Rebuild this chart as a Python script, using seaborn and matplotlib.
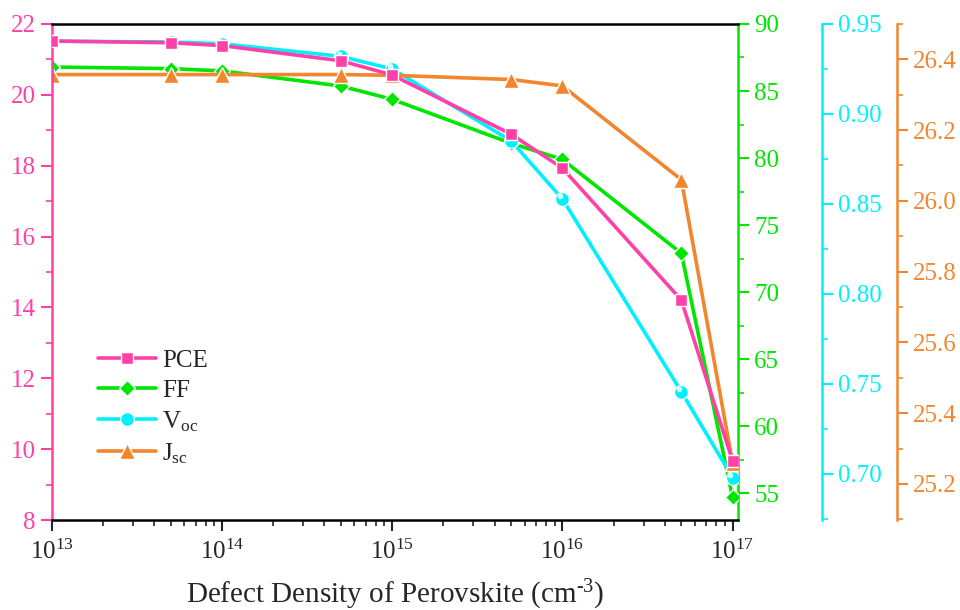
import numpy as np
import pandas as pd
import matplotlib
matplotlib.use("Agg")
import matplotlib.pyplot as plt
from matplotlib.ticker import MultipleLocator, LogLocator, NullFormatter
from matplotlib.lines import Line2D
import seaborn as sns

# --- datos ---
DENSITY = [1e13, 5e13, 1e14, 5e14, 1e15, 5e15, 1e16, 5e16, 1e17]
PCE = [21.52, 21.47, 21.39, 20.96, 20.56, 18.89, 17.93, 14.21, 9.67]
FF = [86.79, 86.67, 86.50, 85.37, 84.38, 81.10, 79.90, 72.90, 54.70]
VOC = [0.9404, 0.9400, 0.9390, 0.9320, 0.9250, 0.8850, 0.8528, 0.7457, 0.6980]
JSC = [26.357, 26.357, 26.357, 26.357, 26.355, 26.343, 26.325, 26.060, 25.260]

C_PCE = "#FF40A8"
C_FF = "#00E600"
C_VOC = "#00F0FF"
C_JSC = "#F2862E"

sns.set_style("ticks")
plt.rcParams["font.family"] = ["Liberation Serif", "DejaVu Serif"]
plt.rcParams["mathtext.fontset"] = "custom"
plt.rcParams["mathtext.rm"] = "Liberation Serif"
plt.rcParams["mathtext.it"] = "Liberation Serif:italic"

df = pd.DataFrame({"density": DENSITY, "PCE": PCE, "FF": FF, "Voc": VOC, "Jsc": JSC})

fig = plt.figure(figsize=(9.6, 6.1), dpi=100)
ax = fig.add_axes([0.054, 0.1475, 0.715, 0.8132])
ax2 = ax.twinx()
ax3 = ax.twinx()
ax4 = ax.twinx()

series = [
    (ax, "PCE", C_PCE, "s", "PCE", 9),
    (ax2, "FF", C_FF, "D", "FF", 8),
    (ax3, "Voc", C_VOC, "o", "V$_{\\rm oc}$", 10),
    (ax4, "Jsc", C_JSC, "^", "J$_{\\rm sc}$", 11),
]
handles = []
for a, col, color, mk, lab, ms in series:
    sns.lineplot(data=df, x="density", y=col, ax=a, color=color, marker=mk,
                 markersize=ms, linewidth=2.6, markeredgecolor="white",
                 markeredgewidth=1.0, legend=False, zorder=3)
    handles.append(Line2D([], [], color=color, marker=mk, markersize=ms,
                          linewidth=2.6, markeredgecolor="white",
                          markeredgewidth=1.0, label=lab))

# brillo blanco de las esferas de Voc
ax3.plot(df["density"] * 0.97, df["Voc"] + 0.0015, linestyle="none", marker="o",
         markersize=3, color="white", alpha=0.8, zorder=4)

ax.set_xscale("log")
ax.set_xlim(1e13, 1.08e17)
ax.set_ylim(8, 22)
ax2.set_ylim(53, 90)
ax3.set_ylim(0.6744, 0.95)
ax4.set_ylim(25.098, 26.50)

ax.xaxis.set_major_locator(LogLocator(base=10, numticks=10))
ax.xaxis.set_minor_locator(LogLocator(base=10, subs=np.arange(2, 10), numticks=20))
ax.xaxis.set_minor_formatter(NullFormatter())

ax.yaxis.set_major_locator(MultipleLocator(2))
ax.yaxis.set_minor_locator(MultipleLocator(1))
ax2.yaxis.set_major_locator(MultipleLocator(5))
ax2.yaxis.set_minor_locator(MultipleLocator(2.5))
ax3.yaxis.set_major_locator(MultipleLocator(0.05))
ax3.yaxis.set_minor_locator(MultipleLocator(0.025))
ax3.yaxis.set_major_formatter(plt.FuncFormatter(lambda v, p: f"{v:.2f}"))
ax4.yaxis.set_major_locator(MultipleLocator(0.2))
ax4.yaxis.set_minor_locator(MultipleLocator(0.1))
ax4.yaxis.set_major_formatter(plt.FuncFormatter(lambda v, p: f"{v:.1f}"))

# desplazamiento en puntos (84 px y 159 px a 100 dpi)
ax3.spines["right"].set_position(("outward", 60.5))
ax4.spines["right"].set_position(("outward", 114.5))

for a in (ax, ax2, ax3, ax4):
    a.set_ylabel("")
    a.set_xlabel("")
    for s in ("top", "left", "right", "bottom"):
        a.spines[s].set_visible(False)

ax.spines["top"].set_visible(True)
ax.spines["bottom"].set_visible(True)
ax.spines["left"].set_visible(True)
ax.spines["top"].set_color("black")
ax.spines["bottom"].set_color("black")
ax.spines["left"].set_color(C_PCE)
ax2.spines["right"].set_visible(True)
ax2.spines["right"].set_color(C_FF)
ax3.spines["right"].set_visible(True)
ax3.spines["right"].set_color(C_VOC)
ax4.spines["right"].set_visible(True)
ax4.spines["right"].set_color(C_JSC)
for a in (ax, ax2, ax3, ax4):
    for s in a.spines.values():
        s.set_linewidth(1.8)

ax.tick_params(axis="x", which="major", length=8, width=1.5, labelsize=18, pad=6)
ax.tick_params(axis="x", which="minor", length=4, width=1.2)
ax.tick_params(axis="y", which="major", colors=C_PCE, length=8, width=1.5, labelsize=18)
ax.tick_params(axis="y", which="minor", colors=C_PCE, length=4, width=1.2)
for a, c in ((ax2, C_FF), (ax3, C_VOC), (ax4, C_JSC)):
    a.tick_params(axis="y", which="major", colors=c, length=8, width=1.5, labelsize=18)
    a.tick_params(axis="y", which="minor", colors=c, length=4, width=1.2)

ax.set_xlabel("Defect Density of Perovskite (cm$^{\\text{-3}}$)", fontsize=21, labelpad=10)

ax.legend(handles=handles, loc="upper left", bbox_to_anchor=(0.035, 0.39),
          frameon=False, fontsize=18, handlelength=2.3, labelspacing=0.3,
          handletextpad=0.25)
ax.set_zorder(ax4.get_zorder() + 1)
ax.patch.set_visible(False)

fig.savefig("out.png", dpi=100)
